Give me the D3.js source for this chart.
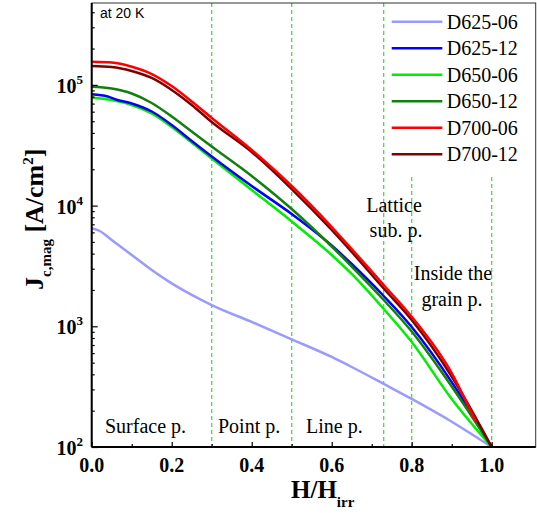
<!DOCTYPE html>
<html>
<head>
<meta charset="utf-8">
<script src="https://cdn.jsdelivr.net/npm/d3@7"></script>
<style>
  body { margin: 0; background: #fff; }
  svg text { font-family: "Liberation Serif", "Times New Roman", serif; }
</style>
</head>
<body>
<div id="chart"></div>
<script>
// Jc,mag vs H/Hirr at 20 K

var seriesNames = ['D625-06', 'D625-12', 'D650-06', 'D650-12', 'D700-06', 'D700-12'];
var seriesColors = ['#9a9aff', '#0000ff', '#00ee00', '#118011', '#ff0000', '#800000'];

// D625-06
var h625_06 = [0, 0.02, 0.05, 0.1, 0.15, 0.2, 0.25, 0.3, 0.4, 0.5, 0.6, 0.65, 0.73, 0.8, 0.9, 1.0];
var j625_06 = [6490, 6160, 5190, 3900, 2930, 2270, 1820, 1500, 1086, 780, 557, 460, 333, 250, 162, 100];

// D625-12
var h625_12 = [0, 0.04, 0.06, 0.1, 0.15, 0.2, 0.25, 0.3, 0.4, 0.5, 0.6, 0.65, 0.73, 0.8, 0.9, 1.0];
var j625_12 = [83580, 80150, 75690, 70140, 60210, 46540, 34300, 25520, 14530, 8520, 4671, 3282, 1782, 987, 345, 100];

// D650-06
var h650_06 = [0, 0.05, 0.1, 0.15, 0.2, 0.25, 0.3, 0.4, 0.5, 0.6, 0.65, 0.73, 0.8, 0.9, 1.0];
var j650_06 = [78340, 74980, 68170, 57940, 44800, 33330, 24560, 13470, 7386, 3897, 2713, 1391, 741, 250, 100];

// D650-12
var h650_12 = [0, 0.05, 0.1, 0.15, 0.2, 0.25, 0.3, 0.4, 0.5, 0.6, 0.65, 0.73, 0.8, 0.9, 1.0];
var j650_12 = [96630, 93370, 84900, 70800, 54720, 41110, 30880, 17590, 9372, 4583, 3129, 1652, 905, 317, 100];

// D700-06 (trace stops just short of Hirr)
var h700_06 = [0, 0.05, 0.1, 0.15, 0.2, 0.25, 0.3, 0.4, 0.5, 0.6, 0.65, 0.73, 0.8, 0.9, 0.96];
var j700_06 = [155700, 153400, 141500, 123100, 97900, 72900, 53200, 28900, 14530, 6650, 4370, 2199, 1201, 410, 161];

// D700-12
var h700_12 = [0, 0.05, 0.1, 0.15, 0.2, 0.25, 0.3, 0.4, 0.5, 0.6, 0.65, 0.73, 0.8, 0.9, 1.0];
var j700_12 = [143400, 140700, 130400, 114100, 90750, 68170, 49270, 27810, 13720, 6280, 4127, 2057, 1128, 384, 100];

var seriesH = [h625_06, h625_12, h650_06, h650_12, h700_06, h700_12];
var seriesJ = [j625_06, j625_12, j650_06, j650_12, j700_06, j700_12];

// pinning regimes boundaries
var boundaries = [0.3, 0.5, 0.73, 0.8, 1.0];
var regionLabels = ['Surface p.', 'Point p.', 'Line p.'];
var xTicks = [0, 0.2, 0.4, 0.6, 0.8, 1.0];
var yTicks = [100, 1000, 10000, 100000];

var width = 537,
    height = 513;

// careful: "top" is taken by window.top
var plotLeft = 91.7, plotRight = 535.7, plotTop = 3, plotBottom = 447;

var x = d3.scaleLinear().domain([0, 1.11]).range([plotLeft, plotRight]);
var y = d3.scaleLog().domain([100, 4.77e5]).range([plotBottom, plotTop]);

var svg = d3.select('#chart').append('svg')
    .attr('width', width)
    .attr('height', height);

svg.append('clipPath').attr('id', 'plotclip')
    .append('rect')
    .attr('x', plotLeft).attr('y', plotTop)
    .attr('width', plotRight - plotLeft).attr('height', plotBottom - plotTop);

////////////////////
// dashed borders //
////////////////////
svg.selectAll('.bound')
    .data(boundaries)
    .enter()
    .append('line')
    .attr('x1', function(d) { return x(d); })
    .attr('x2', function(d) { return x(d); })
    .attr('y1', function(d) { return d >= 0.8 ? 177 : plotTop; })
    .attr('y2', plotBottom)
    .style('stroke', '#3ad83a')
    .style('stroke-width', 1.2)
    .style('stroke-dasharray', '4,3');

///////////
// lines //
///////////
var line = d3.line()
    .curve(d3.curveMonotoneX)
    .x(function(d) { return x(d[0]); })
    .y(function(d) { return y(d[1]); });

var order = [0, 2, 1, 3, 5, 4];
order.forEach(function(i) {
    var pts = seriesH[i].map(function(h, k) { return [h, seriesJ[i][k]]; });
    svg.append('path')
        .datum(pts)
        .attr('clip-path', 'url(#plotclip)')
        .attr('d', line)
        .style('fill', 'none')
        .style('stroke', seriesColors[i])
        .style('stroke-width', 2.5)
        .style('stroke-linejoin', 'round');
});

//////////
// axes //
//////////
var xAxis = d3.axisBottom(x)
    .tickValues(d3.range(0, 1.01, 0.1))
    .tickSizeInner(-5)
    .tickSizeOuter(0)
    .tickFormat('');
var gx = svg.append('g')
    .attr('transform', 'translate(0,' + plotBottom + ')')
    .call(xAxis);
gx.selectAll('.tick line')
    .attr('y2', function(d, i) { return i % 2 === 0 ? -5 : -3; });

var yMinor = [];
[100, 1000, 10000, 100000].forEach(function(dec) {
    for (var m = 2; m <= 9; m++) {
        if (dec * m <= 4.77e5) yMinor.push(dec * m);
    }
});
var yAxis = d3.axisLeft(y)
    .tickValues(yTicks.concat(yMinor))
    .tickSizeInner(-6)
    .tickSizeOuter(0)
    .tickFormat('');
var gy = svg.append('g')
    .attr('transform', 'translate(' + plotLeft + ',0)')
    .call(yAxis);
gy.selectAll('.tick line')
    .attr('x2', function(d) { return yTicks.indexOf(d) >= 0 ? 6 : 3; });

svg.selectAll('.domain').remove();
svg.selectAll('.tick line').style('stroke', '#000').style('stroke-width', 1.2);

// frame
svg.append('rect')
    .attr('x', plotLeft).attr('y', plotTop)
    .attr('width', plotRight - plotLeft).attr('height', plotBottom - plotTop)
    .style('fill', 'none')
    .style('stroke', '#333')
    .style('stroke-width', 1);
svg.append('line')
    .attr('x1', plotLeft).attr('x2', plotRight)
    .attr('y1', plotBottom).attr('y2', plotBottom)
    .style('stroke', '#000').style('stroke-width', 2);
svg.append('line')
    .attr('x1', plotLeft).attr('x2', plotLeft)
    .attr('y1', plotTop).attr('y2', plotBottom)
    .style('stroke', '#000').style('stroke-width', 2);

// tick labels
svg.selectAll('.xlab')
    .data(xTicks)
    .enter()
    .append('text')
    .attr('x', function(d) { return x(d); })
    .attr('y', plotBottom + 25)
    .attr('text-anchor', 'middle')
    .style('font-size', '20px')
    .style('font-weight', 'bold')
    .text(function(d) { return d3.format('.1f')(d); });

var ylab = svg.selectAll('.ylab')
    .data(yTicks)
    .enter()
    .append('text')
    .attr('x', 83)
    .attr('y', function(d) { return y(d) + 8; })
    .attr('text-anchor', 'end')
    .style('font-size', '20px')
    .style('font-weight', 'bold');
ylab.append('tspan').text('10');
ylab.append('tspan')
    .attr('dy', -9)
    .style('font-size', '13px')
    .text(function(d) { return Math.round(Math.log10(d)); });

// axis titles
var xt = svg.append('text')
    .attr('x', 291)
    .attr('y', 498)
    .style('font-size', '25px')
    .style('font-weight', 'bold');
xt.append('tspan').text('H/H');
xt.append('tspan').attr('dy', 9).style('font-size', '15px').text('irr');

var yt = svg.append('text')
    .attr('transform', 'translate(43,290) rotate(-90)')
    .style('font-size', '26px')
    .style('font-weight', 'bold');
yt.append('tspan').text('J');
yt.append('tspan').attr('dy', 8).style('font-size', '15px').text('c,mag');
yt.append('tspan').attr('dy', -8).text(' [A/cm');
yt.append('tspan').attr('dy', -10).style('font-size', '15px').text('2');
yt.append('tspan').attr('dy', 10).text(']');

////////////
// legend //
////////////
var legend = svg.selectAll('.legend')
    .data(seriesNames)
    .enter()
    .append('g')
    .attr('transform', function(d, i) { return 'translate(0,' + (21.7 + i * 26.5) + ')'; });
legend.append('line')
    .attr('x1', 391.7).attr('x2', 442.3)
    .attr('y1', 0).attr('y2', 0)
    .style('stroke', function(d, i) { return seriesColors[i]; })
    .style('stroke-width', 2.5);
legend.append('text')
    .attr('x', 446.7)
    .attr('y', 7)
    .style('font-size', '20px')
    .text(function(d) { return d; });

/////////////////
// annotations //
/////////////////
svg.append('text')
    .attr('x', 100).attr('y', 18)
    .style('font-family', '"Liberation Sans", Arial, sans-serif')
    .style('font-size', '14px')
    .text('at 20 K');

var regionX = [105, 218, 306];
svg.selectAll('.region')
    .data(regionLabels)
    .enter()
    .append('text')
    .attr('x', function(d, i) { return regionX[i]; })
    .attr('y', 433)
    .style('font-size', '20px')
    .text(function(d) { return d; });

svg.append('text').attr('x', 394).attr('y', 212).attr('text-anchor', 'middle')
    .style('font-size', '20px').text('Lattice');
svg.append('text').attr('x', 396).attr('y', 237).attr('text-anchor', 'middle')
    .style('font-size', '20px').text('sub. p.');
svg.append('text').attr('x', 453).attr('y', 280).attr('text-anchor', 'middle')
    .style('font-size', '20px').text('Inside the');
svg.append('text').attr('x', 452).attr('y', 306).attr('text-anchor', 'middle')
    .style('font-size', '20px').text('grain p.');
</script>
</body>
</html>
